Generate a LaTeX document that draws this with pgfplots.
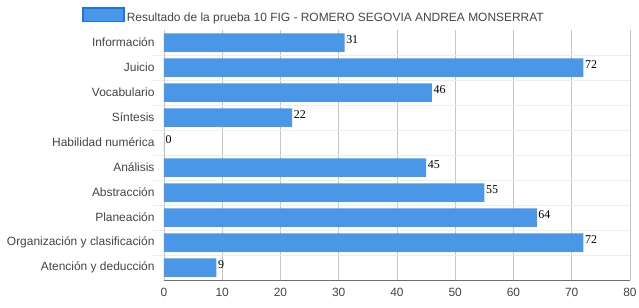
\documentclass[border=0pt]{standalone}
\usepackage{pgfplots}
\pgfplotsset{compat=1.18}
\usepackage{fontspec}
\setmainfont{Liberation Sans}
\newfontfamily\serifnum{Liberation Serif}
\definecolor{barfill}{RGB}{74,151,232}
\definecolor{baredge}{RGB}{110,175,240}
\definecolor{legedge}{RGB}{26,115,232}
\definecolor{txtgray}{RGB}{68,68,68}
\definecolor{gridgray}{RGB}{196,196,196}
\definecolor{axgray}{RGB}{110,110,110}
\definecolor{faint}{RGB}{236,236,236}
\begin{document}
\begin{tikzpicture}
\useasboundingbox (-164bp,-28bp) rectangle (475bp,280bp);
\begin{axis}[
  scale only axis, width=466bp, height=250bp,
  xbar, bar width=18.5bp,
  xmin=0, xmax=80, xtick={0,10,...,80},
  ymin=-0.5, ymax=9.5, y dir=reverse,
  ytick={0,...,9},
  yticklabels={Información,Juicio,Vocabulario,Síntesis,Habilidad numérica,Análisis,Abstracción,Planeación,Organización y clasificación,Atención y deducción},
  minor ytick={0.5,1.5,...,8.5},
  xmajorgrids, yminorgrids,
  major grid style={draw=gridgray, line width=0.8bp},
  minor grid style={draw=faint, line width=0.8bp},
  major tick length=0pt,
  minor tick length=11bp,
  tick align=outside,
  minor tick style={draw=faint, line width=0.8bp},
  axis x line*=bottom, axis y line*=left,
  x axis line style={draw=axgray, line width=0.8bp, -},
  y axis line style={draw=gridgray, line width=0.8bp, -},
  tick label style={font=\fontsize{12}{14}\selectfont, text=txtgray},
  /pgf/number format/assume math mode=true,
  yticklabel style={xshift=-6bp},
  xticklabel style={yshift=-5bp},
  point meta=x,
  nodes near coords,
  nodes near coords style={font=\serifnum\fontsize{12}{14}\selectfont, text=black, anchor=west, inner sep=1.5bp, yshift=3bp},
  legend style={draw=none, fill=none, at={(-0.176,1.056)}, anchor=west, font=\fontsize{12}{14}\selectfont, text=txtgray, inner sep=0pt, /tikz/every even column/.append style={column sep=2bp}},
  legend cell align=left,
  legend image code/.code={\draw[draw=legedge, line width=1.6bp, fill=barfill] (0bp,-3.5bp) rectangle (41bp,10bp);},
  clip=false,
]
\addplot[fill=barfill, draw=none] coordinates {
  (31,0) (72,1) (46,2) (22,3) (0,4) (45,5) (55,6) (64,7) (72,8) (9,9)
};
\addlegendentry{Resultado de la prueba 10 FIG - ROMERO SEGOVIA ANDREA MONSERRAT}
\end{axis}
\end{tikzpicture}
\end{document}
